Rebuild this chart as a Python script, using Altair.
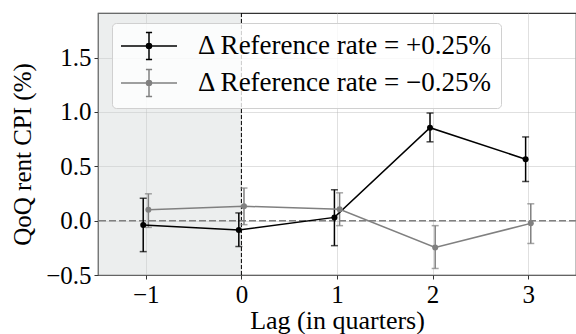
import altair as alt
import pandas as pd

lags = [-1, 0, 1, 2, 3]
series_names = ["+0.25%", "\u22120.25%"]
pos_mean = [-0.04, -0.085, 0.03, 0.855, 0.565]
pos_lo = [-0.285, -0.238, -0.23, 0.725, 0.36]
pos_hi = [0.206, 0.071, 0.284, 0.99, 0.77]
neg_mean = [0.10, 0.132, 0.105, -0.247, -0.025]
neg_lo = [-0.062, -0.037, -0.046, -0.44, -0.21]
neg_hi = [0.247, 0.30, 0.256, -0.046, 0.155]
x_ticks = [-1, 0, 1, 2, 3]
y_ticks = [-0.5, 0.0, 0.5, 1.0, 1.5]
x_domain = [-1.5, 3.5]
y_domain = [-0.5, 1.91]
dodge = 0.027

rows = []
for i, lag in enumerate(lags):
    rows.append({"lag": lag + -dodge, "series": series_names[0],
                 "mean": pos_mean[i], "lo": pos_lo[i], "hi": pos_hi[i]})
    rows.append({"lag": lag + dodge, "series": series_names[1],
                 "mean": neg_mean[i], "lo": neg_lo[i], "hi": neg_hi[i]})
df = pd.DataFrame(rows)

shade_df = pd.DataFrame({"x": [x_domain[0]], "x2": [0], "y": [y_domain[0]], "y2": [y_domain[1]]})
vline_df = pd.DataFrame({"x": [0]})
hline_df = pd.DataFrame({"y": [0]})

FONT = "Liberation Serif"
colors = ["#000000", "#808080"]

xs = alt.Scale(domain=x_domain, nice=False, zero=False)
ys = alt.Scale(domain=y_domain, nice=False, zero=False)
cscale = alt.Scale(domain=series_names, range=colors)

xaxis = alt.Axis(values=x_ticks, title="Lag (in quarters)", format="d",
                 grid=True, titleY=53, titleBaseline="alphabetic", titleFontSize=26)
yaxis = alt.Axis(values=y_ticks, title="QoQ rent CPI (%)", format=".1f",
                 grid=True, titlePadding=10, titleY=141)


def r(v):
    return f"{v:.3f}"


def circ(rad):
    return f"M{r(rad)},0A{r(rad)},{r(rad)} 0 1,1 {r(-rad)},0A{r(rad)},{r(rad)} 0 1,1 {r(rad)},0"


# symbol scaled by sqrt(size)/2 = 14 px per unit
symbol_path = ("M-2,0H2M0,-0.96V0.96M-0.22,-0.96H0.22M-0.22,0.96H0.22"
               + circ(0.06) + circ(0.12) + circ(0.18))

legend = alt.Legend(
    title=None, orient="none", legendX=14, legendY=10,
    symbolType=symbol_path, symbolSize=784, symbolStrokeWidth=1.5,
    symbolOpacity=1, symbolOffset=14,
    labelExpr="'\u0394 Reference rate = ' + datum.label",
    labelFont=FONT, labelFontSize=27, labelColor="black", labelLimit=500,
    labelOffset=34, rowPadding=3, padding=8,
    fillColor="rgba(255,255,255,0.8)", strokeColor="#d0d0d0",
    cornerRadius=4,
)
color = alt.Color("series:N", scale=cscale, sort=series_names, legend=legend)

base = alt.Chart(df)

shade = alt.Chart(shade_df).mark_rect(color="#c9d0d0", opacity=0.36).encode(
    x=alt.X("x:Q", scale=xs, axis=xaxis),
    x2="x2",
    y=alt.Y("y:Q", scale=ys, axis=yaxis),
    y2="y2",
)

vline = alt.Chart(vline_df).mark_rule(color="black", strokeDash=[4, 2], strokeWidth=1).encode(
    x=alt.X("x:Q", scale=xs)
)
hline = alt.Chart(hline_df).mark_rule(color="#808080", strokeDash=[7, 3], strokeWidth=1.5).encode(
    y=alt.Y("y:Q", scale=ys)
)

err = base.mark_rule(strokeWidth=1.5).encode(
    x=alt.X("lag:Q", scale=xs),
    y=alt.Y("lo:Q", scale=ys),
    y2="hi",
    color=color,
)
cap_lo = base.mark_tick(orient="horizontal", size=7, thickness=1.5).encode(
    x=alt.X("lag:Q", scale=xs),
    y=alt.Y("lo:Q", scale=ys),
    color=color,
)
cap_hi = base.mark_tick(orient="horizontal", size=7, thickness=1.5).encode(
    x=alt.X("lag:Q", scale=xs),
    y=alt.Y("hi:Q", scale=ys),
    color=color,
)
line = base.mark_line(strokeWidth=1.5).encode(
    x=alt.X("lag:Q", scale=xs),
    y=alt.Y("mean:Q", scale=ys),
    color=color,
)
pts = base.mark_point(filled=True, size=36, opacity=1).encode(
    x=alt.X("lag:Q", scale=xs),
    y=alt.Y("mean:Q", scale=ys),
    color=color,
)

chart = alt.layer(shade, vline, hline, err, cap_lo, cap_hi, line, pts).properties(
    width=478, height=262,
    padding={"left": 98, "top": 13, "right": 0, "bottom": 59},
    autosize=alt.AutoSizeParams(type="none"),
).configure(
    font=FONT,
).configure_view(
    stroke="#333333", strokeWidth=1.2,
).configure_axis(
    labelFont=FONT, titleFont=FONT, labelFontSize=25, titleFontSize=25,
    labelColor="black", titleColor="black", titleFontWeight="normal",
    tickSize=4, tickColor="#333333", tickWidth=1, domain=False,
    gridColor="#b0b0b0", gridDash=[1, 1], gridWidth=0.8,
    labelPadding=3,
).configure_legend(
    labelFont=FONT,
)

chart.save("out.html", embed_options={"renderer": "svg", "actions": False})
